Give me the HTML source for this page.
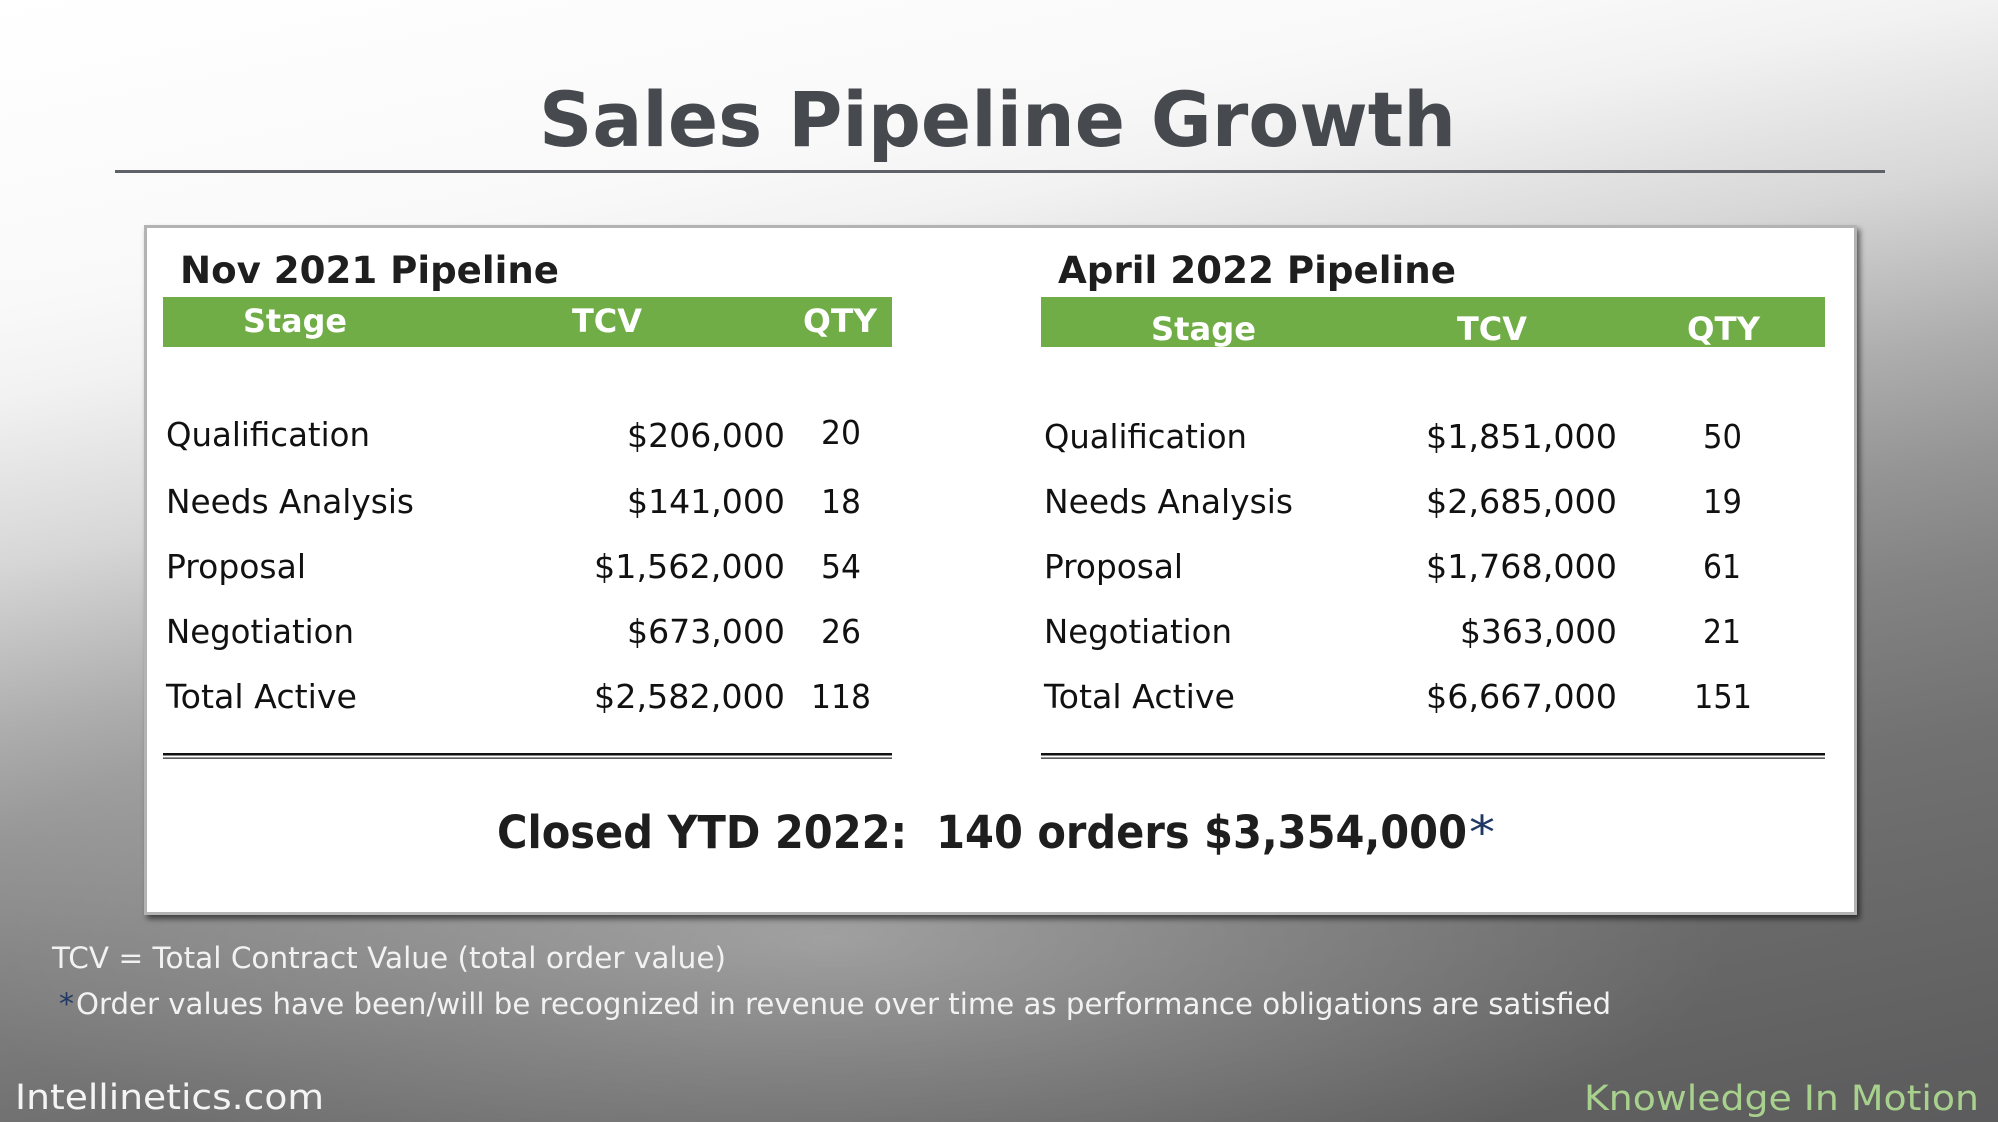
<!DOCTYPE html>
<html>
<head>
<meta charset="utf-8">
<style>
  html, body { margin: 0; padding: 0; background: #777; }
  svg { display: block; }
  text { font-family: "DejaVu Sans", "Liberation Sans", sans-serif; }
</style>
</head>
<body>
<svg width="1998" height="1122" viewBox="0 0 1998 1122" xmlns="http://www.w3.org/2000/svg">
  <defs>
    <linearGradient id="bg" gradientUnits="userSpaceOnUse" x1="0" y1="0" x2="292" y2="1464">
      <stop offset="0" stop-color="#ffffff"/>
      <stop offset="0.20" stop-color="#f9f9f9"/>
      <stop offset="0.26" stop-color="#f2f2f2"/>
      <stop offset="0.37" stop-color="#d7d7d7"/>
      <stop offset="0.48" stop-color="#adadad"/>
      <stop offset="0.56" stop-color="#949494"/>
      <stop offset="0.63" stop-color="#838383"/>
      <stop offset="0.74" stop-color="#717171"/>
      <stop offset="0.96" stop-color="#5e5e5f"/>
      <stop offset="1" stop-color="#5c5c5d"/>
    </linearGradient>
    <radialGradient id="hl" gradientUnits="userSpaceOnUse" cx="830" cy="940" r="900"
      gradientTransform="translate(830 940) scale(1 0.3) translate(-830 -940)">
      <stop offset="0" stop-color="#ffffff" stop-opacity="0.32"/>
      <stop offset="0.5" stop-color="#ffffff" stop-opacity="0.15"/>
      <stop offset="1" stop-color="#ffffff" stop-opacity="0"/>
    </radialGradient>
    <filter id="sh" x="-5%" y="-5%" width="110%" height="115%">
      <feDropShadow dx="3" dy="4" stdDeviation="3" flood-color="#000" flood-opacity="0.55"/>
    </filter>
  </defs>

  <!-- background -->
  <rect x="0" y="0" width="1998" height="1122" fill="url(#bg)"/>
  <rect x="0" y="0" width="1998" height="1122" fill="url(#hl)"/>

  <!-- title -->
  <text x="539" y="146" font-size="76" font-weight="bold" fill="#46494e" textLength="917" lengthAdjust="spacingAndGlyphs">Sales Pipeline Growth</text>
  <rect x="115" y="170" width="1770" height="3" fill="#5e6167"/>

  <!-- white box -->
  <rect x="145.5" y="226.5" width="1710" height="687" fill="#ffffff" stroke="#b3b3b3" stroke-width="3" filter="url(#sh)"/>

  <!-- headings -->
  <text x="180" y="283" font-size="37" font-weight="bold" fill="#1e1e1e" textLength="379" lengthAdjust="spacingAndGlyphs">Nov 2021 Pipeline</text>
  <text x="1058" y="283" font-size="37" font-weight="bold" fill="#1e1e1e" textLength="398" lengthAdjust="spacingAndGlyphs">April 2022 Pipeline</text>

  <!-- green header bars -->
  <rect x="163" y="297" width="729" height="50" fill="#70ad47"/>
  <rect x="1041" y="297" width="784" height="50" fill="#70ad47"/>

  <g font-size="32" font-weight="bold" fill="#ffffff">
    <text x="243" y="332" textLength="104" lengthAdjust="spacingAndGlyphs">Stage</text>
    <text x="572" y="332" textLength="70" lengthAdjust="spacingAndGlyphs">TCV</text>
    <text x="803" y="332" textLength="74" lengthAdjust="spacingAndGlyphs">QTY</text>
    <text x="1151" y="340" textLength="105" lengthAdjust="spacingAndGlyphs">Stage</text>
    <text x="1457" y="340" textLength="70" lengthAdjust="spacingAndGlyphs">TCV</text>
    <text x="1687" y="340" textLength="73" lengthAdjust="spacingAndGlyphs">QTY</text>
  </g>

  <!-- left table rows -->
  <g font-size="33" fill="#111111">
    <text x="166" y="446" textLength="204" lengthAdjust="spacingAndGlyphs">Qualification</text>
    <text x="627" y="447" textLength="158" lengthAdjust="spacingAndGlyphs">$206,000</text>
    <text x="821" y="444" textLength="40" lengthAdjust="spacingAndGlyphs">20</text>

    <text x="166" y="513" textLength="248" lengthAdjust="spacingAndGlyphs">Needs Analysis</text>
    <text x="627" y="513" textLength="158" lengthAdjust="spacingAndGlyphs">$141,000</text>
    <text x="821" y="513" textLength="40" lengthAdjust="spacingAndGlyphs">18</text>

    <text x="166" y="578" textLength="140" lengthAdjust="spacingAndGlyphs">Proposal</text>
    <text x="594" y="578" textLength="191" lengthAdjust="spacingAndGlyphs">$1,562,000</text>
    <text x="821" y="578" textLength="40" lengthAdjust="spacingAndGlyphs">54</text>

    <text x="166" y="643" textLength="188" lengthAdjust="spacingAndGlyphs">Negotiation</text>
    <text x="627" y="643" textLength="158" lengthAdjust="spacingAndGlyphs">$673,000</text>
    <text x="821" y="643" textLength="40" lengthAdjust="spacingAndGlyphs">26</text>

    <text x="166" y="708" textLength="191" lengthAdjust="spacingAndGlyphs">Total Active</text>
    <text x="594" y="708" textLength="191" lengthAdjust="spacingAndGlyphs">$2,582,000</text>
    <text x="811" y="708" textLength="60" lengthAdjust="spacingAndGlyphs">118</text>
  </g>

  <!-- right table rows -->
  <g font-size="33" fill="#111111">
    <text x="1044" y="448" textLength="203" lengthAdjust="spacingAndGlyphs">Qualification</text>
    <text x="1426" y="448" textLength="191" lengthAdjust="spacingAndGlyphs">$1,851,000</text>
    <text x="1703" y="448" textLength="39" lengthAdjust="spacingAndGlyphs">50</text>

    <text x="1044" y="513" textLength="249" lengthAdjust="spacingAndGlyphs">Needs Analysis</text>
    <text x="1426" y="513" textLength="191" lengthAdjust="spacingAndGlyphs">$2,685,000</text>
    <text x="1703" y="513" textLength="39" lengthAdjust="spacingAndGlyphs">19</text>

    <text x="1044" y="578" textLength="139" lengthAdjust="spacingAndGlyphs">Proposal</text>
    <text x="1426" y="578" textLength="191" lengthAdjust="spacingAndGlyphs">$1,768,000</text>
    <text x="1703" y="578" textLength="38" lengthAdjust="spacingAndGlyphs">61</text>

    <text x="1044" y="643" textLength="188" lengthAdjust="spacingAndGlyphs">Negotiation</text>
    <text x="1460" y="643" textLength="157" lengthAdjust="spacingAndGlyphs">$363,000</text>
    <text x="1703" y="643" textLength="38" lengthAdjust="spacingAndGlyphs">21</text>

    <text x="1044" y="708" textLength="191" lengthAdjust="spacingAndGlyphs">Total Active</text>
    <text x="1426" y="708" textLength="191" lengthAdjust="spacingAndGlyphs">$6,667,000</text>
    <text x="1694" y="708" textLength="58" lengthAdjust="spacingAndGlyphs">151</text>
  </g>

  <!-- double lines -->
  <rect x="163" y="753" width="729" height="2.5" fill="#111"/>
  <rect x="163" y="757.5" width="729" height="1.3" fill="#333"/>
  <rect x="1041" y="753" width="784" height="2.5" fill="#111"/>
  <rect x="1041" y="757.5" width="784" height="1.3" fill="#333"/>

  <!-- closed YTD -->
  <text x="497" y="848" font-size="45" font-weight="bold" fill="#1e1e1e" textLength="970" lengthAdjust="spacingAndGlyphs" xml:space="preserve">Closed YTD 2022:  140 orders $3,354,000</text>
  <text x="1469" y="848" font-size="45" fill="#1f3864" textLength="26" lengthAdjust="spacingAndGlyphs">*</text>

  <!-- footnotes -->
  <text x="52" y="968" font-size="29" fill="#f2f2f2" textLength="674" lengthAdjust="spacingAndGlyphs">TCV = Total Contract Value (total order value)</text>
  <text x="59" y="1014" font-size="29" fill="#1f3864" textLength="15" lengthAdjust="spacingAndGlyphs">*</text>
  <text x="76" y="1014" font-size="29" fill="#f2f2f2" textLength="1535" lengthAdjust="spacingAndGlyphs">Order values have been/will be recognized in revenue over time as performance obligations are satisfied</text>

  <!-- footer -->
  <text x="15" y="1109" font-size="35" fill="#f4f4f4" textLength="309" lengthAdjust="spacingAndGlyphs">Intellinetics.com</text>
  <text x="1584" y="1110" font-size="35" fill="#a9d18e" textLength="395" lengthAdjust="spacingAndGlyphs">Knowledge In Motion</text>
</svg>
</body>
</html>
